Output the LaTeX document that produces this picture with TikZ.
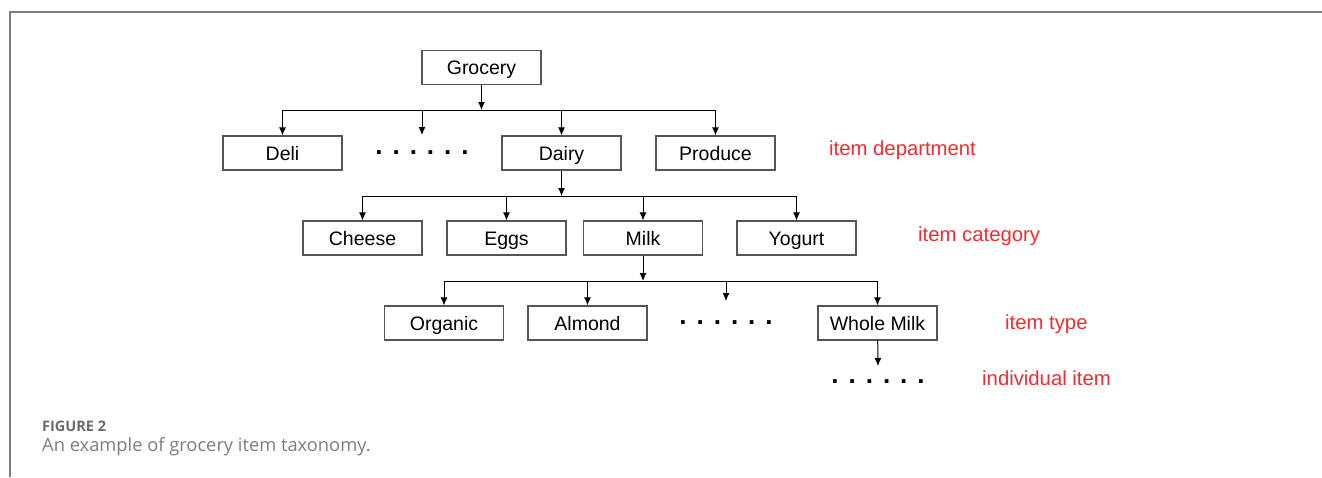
\documentclass[tikz,border=0pt]{standalone}
\usepackage{fontspec}
\usetikzlibrary{arrows.meta}
\setmainfont{Liberation Sans}
\newfontfamily\capfont{Open Sans}
\definecolor{lblred}{RGB}{238,45,50}
\definecolor{boxgray}{RGB}{85,85,85}
\definecolor{capgray}{RGB}{125,125,125}
\newcommand{\dotgap}{\hspace{10pt}}
\newcommand{\dotrow}{\textbf{.\dotgap.\dotgap.\dotgap.\dotgap.\dotgap.}}
\tikzset{taxbox/.style={draw=boxgray,line width=1.2pt,minimum width=119pt,minimum height=34pt,inner sep=0pt,text height=14pt,text depth=0pt,font=\fontsize{19.5}{22}\selectfont},
         taxdots/.style={inner sep=0pt,font=\fontsize{26}{28}\selectfont},
         taxlevel/.style={text=lblred,anchor=base west,inner sep=0pt,font=\fontsize{20.3}{22}\selectfont},
         taxarrow/.style={line width=1pt,-{Latex[length=8pt,width=7pt]}},
         taxbus/.style={line width=1pt}}

\begin{document}
\begin{tikzpicture}[x=1pt,y=-1pt]
\useasboundingbox (0,0) rectangle (1322,477);
\draw[capgray,line width=1.5pt] (1322,12) -- (10,12) -- (10,477);
% top
\node (groc) [taxbox] at (481.5,67.5) {Grocery};
% item department
\node (deli) [taxbox] at (282.5,153) {Deli};
\node (dots1) [taxdots] at (422,152.5) {\dotrow};
\node (dairy) [taxbox] at (561.5,153) {Dairy};
\node (prod) [taxbox] at (715.5,153) {Produce};
% item category
\node (chee) [taxbox] at (362.5,238) {Cheese};
\node (eggs) [taxbox] at (506.5,238) {Eggs};
\node (milk) [taxbox] at (643,238) {Milk};
\node (yog) [taxbox] at (796.5,238) {Yogurt};
% item type
\node (org) [taxbox] at (444,323) {Organic};
\node (alm) [taxbox] at (587.5,323) {Almond};
\node (dots2) [taxdots] at (726,323) {\dotrow};
\node (whole) [taxbox] at (877.5,323) {Whole Milk};
% individual item
\node (dots3) [taxdots] at (878,382) {\dotrow};
% level labels
\node (lvl1) [taxlevel] at (829,155) {item department};
\node (lvl2) [taxlevel] at (918,241) {item category};
\node (lvl3) [taxlevel] at (1005,329) {item type};
\node (lvl4) [taxlevel] at (982,385) {individual item};
% buses
\coordinate (bus1) at (481.5,110);
\coordinate (bus2) at (561.5,196);
\coordinate (bus3) at (643,281);
\coordinate (d1top) at (422,135);
\coordinate (d2top) at (726,301);
\coordinate (d3top) at (878,366);
\draw[taxarrow] (groc) -- (bus1);
\draw[taxbus] (deli |- bus1) -- (prod |- bus1);
\foreach \n in {deli,dairy,prod} \draw[taxarrow] (\n |- bus1) -- (\n);
\draw[taxarrow] (d1top |- bus1) -- (d1top);
\draw[taxarrow] (dairy) -- (bus2);
\draw[taxbus] (chee |- bus2) -- (yog |- bus2);
\foreach \n in {chee,eggs,milk,yog} \draw[taxarrow] (\n |- bus2) -- (\n);
\draw[taxarrow] (milk) -- (bus3);
\draw[taxbus] (org |- bus3) -- (whole |- bus3);
\foreach \n in {org,alm,whole} \draw[taxarrow] (\n |- bus3) -- (\n);
\draw[taxarrow] (d2top |- bus3) -- (d2top);
\draw[taxarrow] (whole) -- (d3top);
% caption
\node (fig) [anchor=base west,inner sep=0pt,text=capgray!85!black,font=\capfont\bfseries\fontsize{14.5}{16}\selectfont] at (42,431.7) {FIGURE 2};
\node (cap) [anchor=base west,inner sep=0pt,text=capgray,font=\capfont\fontsize{18.3}{20}\selectfont] at (42,451) {An example of grocery item taxonomy.};
\end{tikzpicture}
\end{document}
